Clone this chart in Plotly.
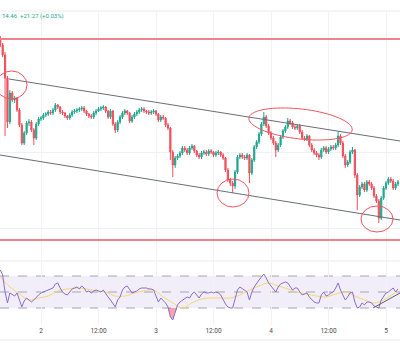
import numpy as np
import plotly.graph_objects as go

# ---------------- data (30-minute candles; x = hours from day "2" 00:00) ----------------
START_HOUR = -8.5
STEP_HOUR = 0.5

opens = [71620,71550,71450,71220,70780,71070,71000,71020,70900,70750,
         70570,70670,70770,70780,70700,70620,70760,70810,70820,70850,
         70860,70880,70870,70900,70950,70930,70880,70870,70840,70820,
         70850,70880,70890,70900,70910,70920,70890,70860,70840,70830,
         70870,70890,70910,70920,70930,70890,70830,70890,70760,70700,
         70780,70830,70870,70890,70870,70790,70830,70860,70880,70900,
         70910,70890,70880,70870,70880,70890,70860,70800,70830,70820,
         70750,70720,70480,70350,70420,70440,70470,70520,70500,70470,
         70520,70540,70490,70450,70430,70470,70480,70460,70490,70480,
         70450,70470,70480,70450,70420,70300,70200,70170,70140,70280,
         70430,70450,70430,70420,70450,70270,70400,70530,70580,70660,
         70760,70830,70740,70670,70620,70570,70500,70550,70630,70690,
         70730,70790,70770,70730,70720,70740,70680,70620,70610,70640,
         70550,70500,70470,70450,70430,70500,70520,70480,70510,70530,
         70520,70550,70640,70570,70440,70350,70380,70480,70500,70250,
         70050,70130,70160,70100,70180,70160,70120,70040,69990,69820,
         70020,70120,70170,70210,70190,70120,70160]
highs = [71640,71570,71480,71240,71100,71090,71040,71030,70920,70770,
         70690,70790,70810,70800,70720,70780,70830,70840,70870,70880,
         70900,70900,70920,70970,70960,70940,70900,70880,70850,70870,
         70900,70910,70920,70930,70940,70940,70900,70870,70860,70890,
         70910,70930,70940,70950,70940,70900,70910,70900,70780,70800,
         70850,70890,70910,70900,70880,70850,70880,70900,70920,70930,
         70930,70900,70900,70900,70910,70900,70870,70850,70850,70830,
         70770,70730,70500,70440,70460,70490,70540,70540,70520,70540,
         70560,70550,70500,70470,70490,70500,70500,70510,70510,70490,
         70490,70500,70490,70470,70430,70320,70220,70190,70300,70450,
         70470,70470,70450,70470,70460,70420,70550,70600,70680,70780,
         70880,70850,70760,70690,70640,70590,70570,70650,70710,70750,
         70820,70810,70790,70750,70760,70760,70700,70640,70660,70650,
         70570,70520,70490,70470,70520,70540,70540,70530,70550,70550,
         70570,70690,70660,70590,70460,70400,70500,70530,70510,70270,
         70150,70180,70180,70200,70200,70180,70140,70060,70010,70040,
         70140,70190,70230,70230,70210,70180,70200]
lows = [71530,71430,70640,70720,70760,70980,70970,70880,70730,70550,
        70550,70650,70740,70680,70550,70600,70740,70790,70800,70830,
        70840,70850,70850,70880,70910,70860,70850,70820,70800,70800,
        70830,70860,70870,70880,70890,70870,70840,70820,70810,70810,
        70850,70880,70890,70900,70870,70810,70810,70740,70670,70680,
        70760,70810,70850,70850,70770,70770,70810,70840,70860,70880,
        70870,70860,70850,70850,70860,70840,70780,70780,70800,70730,
        70700,70400,70230,70320,70400,70420,70450,70480,70450,70450,
        70500,70470,70430,70410,70410,70450,70440,70440,70460,70430,
        70430,70450,70430,70400,70280,70180,70140,70070,70110,70260,
        70410,70410,70400,70400,70170,70250,70380,70510,70560,70640,
        70740,70720,70650,70600,70550,70430,70480,70530,70610,70670,
        70710,70750,70710,70700,70700,70660,70600,70590,70590,70530,
        70480,70450,70430,70400,70410,70480,70460,70460,70490,70500,
        70500,70530,70550,70420,70320,70330,70360,70460,70220,69900,
        70030,70110,70080,70080,70140,70100,70020,69970,69770,69800,
        70000,70100,70150,70170,70100,70100,70140]
closes = [71550,71450,71220,70780,71070,71000,71020,70900,70750,70570,
          70670,70770,70780,70700,70620,70760,70810,70820,70850,70860,
          70880,70870,70900,70950,70930,70880,70870,70840,70820,70850,
          70880,70890,70900,70910,70920,70890,70860,70840,70830,70870,
          70890,70910,70920,70930,70890,70830,70890,70760,70700,70780,
          70830,70870,70890,70870,70790,70830,70860,70880,70900,70910,
          70890,70880,70870,70880,70890,70860,70800,70830,70820,70750,
          70720,70480,70350,70420,70440,70470,70520,70500,70470,70520,
          70540,70490,70450,70430,70470,70480,70460,70490,70480,70450,
          70470,70480,70450,70420,70300,70200,70170,70140,70280,70430,
          70450,70430,70420,70450,70270,70400,70530,70580,70660,70760,
          70830,70740,70670,70620,70570,70500,70550,70630,70690,70730,
          70790,70770,70730,70720,70740,70680,70620,70610,70640,70550,
          70500,70470,70450,70430,70500,70520,70480,70510,70530,70520,
          70550,70640,70570,70440,70350,70380,70480,70500,70250,70050,
          70130,70160,70100,70180,70160,70120,70040,69990,69820,70020,
          70120,70170,70210,70190,70120,70160,70180]

rsi = [77.5,71.3,50.0,36.3,48.8,46.3,45.0,48.8,40.0,31.3,
       38.8,42.5,40.0,37.5,40.0,43.8,46.3,48.8,50.0,51.3,
       52.5,53.8,55.0,60.0,61.3,55.0,50.0,47.5,46.3,50.0,
       53.8,55.0,56.3,53.8,57.5,55.0,50.0,51.3,48.8,51.3,
       52.5,51.3,50.0,52.5,47.5,43.8,40.0,36.3,31.3,40.0,
       43.8,52.5,56.3,57.5,52.5,48.8,50.0,51.3,53.8,55.0,
       55.0,55.0,53.8,53.8,52.5,43.8,37.5,42.5,40.0,36.3,
       31.3,18.8,15.0,25.0,33.8,37.5,40.0,41.3,43.8,42.5,
       47.5,50.0,46.3,42.5,47.5,50.0,48.8,48.8,50.0,48.8,
       50.0,48.8,46.3,40.0,35.0,31.3,30.0,30.0,40.0,52.5,
       56.3,53.8,51.3,50.0,40.0,50.0,56.3,61.3,65.0,68.8,
       72.5,67.5,61.3,57.5,53.8,50.0,56.3,60.0,61.3,62.5,
       61.3,56.3,52.5,55.0,55.0,50.0,46.3,47.5,48.8,43.8,
       40.0,37.5,36.3,36.3,46.3,50.0,45.0,46.3,48.8,50.0,
       55.0,61.3,52.5,46.3,40.0,43.8,48.8,50.0,37.5,30.0,
       31.3,36.3,33.8,37.5,37.5,36.3,32.5,31.3,30.0,40.0,
       43.8,48.8,50.0,52.5,55.0,50.0,53.8]

rsi_ma_index = list(range(0, 165, 4)) + [166]
rsi_ma = [68.8,56.3,47.5,40.0,42.5,45.0,51.3,53.8,55.0,53.8,51.3,50.0,45.0,45.0,
          48.8,51.3,52.5,43.8,36.3,30.0,36.3,41.3,42.5,42.5,42.5,46.3,52.5,57.5,
          61.3,57.5,53.8,50.0,47.5,45.0,43.8,47.5,50.0,45.0,40.0,36.3,40.0,47.5,50.0]

tick_hours = [0, 12, 24, 36, 48, 60, 72]
tick_labels = ["2", "12:00", "3", "12:00", "4", "12:00", "5"]
grid_prices = [70480, 69720]

header_text = "14.46  +21.27 (+0.03%)"

# drawings (hours, price)
resistance_price = 71610
support_price = 69600
upper_channel_h = [-6.68, 74.92]
upper_channel_p = [71210, 70590]
lower_channel_h = [-8.56, 74.92]
lower_channel_p = [70450, 69800]
ellipses = [  # x0, x1 (hours), y0, y1 (price)
    (-9.39, -2.92, 71010, 71290),
    (36.73, 43.41, 69930, 70210),
    (66.78, 73.46, 69680, 69940),
]
tilted = dict(h=54.16, p=70760, a_px=52, b_px=15, angle=6.6)
rsi_trend_h = [69.29, 74.92]
rsi_trend_v = [30, 48.75]

# ---------------- layout constants ----------------
W, H, BMARGIN = 400, 355, 30
PLOT_H = H - BMARGIN
X_RANGE = [-8.556, 74.92]
Y_RANGE = [69400, 71890]
RSI_RANGE = [8.75, 88.75]
MAIN_DOM = [(PLOT_H - 260) / PLOT_H, (PLOT_H - 11) / PLOT_H]
RSI_DOM = [0, (PLOT_H - 261) / PLOT_H]

UP, DOWN = "#22a68f", "#ef4f5b"

hours = START_HOUR + STEP_HOUR * np.arange(len(closes))
ma_hours = hours[rsi_ma_index]

fig = go.Figure()
fig.add_trace(go.Candlestick(
    x=hours, open=opens, high=highs, low=lows, close=closes,
    increasing=dict(line=dict(color=UP, width=1), fillcolor=UP),
    decreasing=dict(line=dict(color=DOWN, width=1), fillcolor=DOWN),
    xaxis="x", yaxis="y", showlegend=False, hoverinfo="skip"))

# RSI oversold fill
fig.add_trace(go.Scatter(x=hours, y=[30] * len(rsi), mode="lines",
                         line=dict(width=0, color="rgba(0,0,0,0)"),
                         xaxis="x2", yaxis="y2", showlegend=False, hoverinfo="skip"))
fig.add_trace(go.Scatter(x=hours, y=np.minimum(rsi, 30), mode="lines", fill="tonexty",
                         fillcolor="rgba(242,54,69,0.45)", line=dict(width=0, color="rgba(0,0,0,0)"),
                         xaxis="x2", yaxis="y2", showlegend=False, hoverinfo="skip"))
fig.add_trace(go.Scatter(x=ma_hours, y=rsi_ma, mode="lines", line=dict(color="#f5d76e", width=1, shape="spline"),
                         xaxis="x2", yaxis="y2", showlegend=False, hoverinfo="skip"))
fig.add_trace(go.Scatter(x=hours, y=rsi, mode="lines", line=dict(color="#8a6cd0", width=1),
                         xaxis="x2", yaxis="y2", showlegend=False, hoverinfo="skip"))

shapes = []
# pane borders
for yp in (MAIN_DOM[1], RSI_DOM[1], (PLOT_H - 340) / PLOT_H):
    shapes.append(dict(type="line", xref="paper", yref="paper", x0=0, x1=1, y0=yp, y1=yp,
                       line=dict(color="#e9ebef", width=1), layer="below"))
# RSI band and levels
shapes.append(dict(type="rect", xref="paper", yref="y2", x0=0, x1=1, y0=30, y1=70,
                   fillcolor="rgba(126,87,194,0.10)", line=dict(width=0), layer="below"))
for lvl in (70, 50, 30):
    shapes.append(dict(type="line", xref="paper", yref="y2", x0=0, x1=1, y0=lvl, y1=lvl,
                       line=dict(color="#a3a6af", width=1, dash="dash"), layer="below"))
# support / resistance
for pr in (resistance_price, support_price):
    shapes.append(dict(type="line", xref="paper", yref="y", x0=0, x1=1, y0=pr, y1=pr,
                       line=dict(color="#f4808a", width=2)))
# channel
shapes.append(dict(type="line", xref="x", yref="y", x0=upper_channel_h[0], x1=upper_channel_h[1],
                   y0=upper_channel_p[0], y1=upper_channel_p[1], line=dict(color="#6a6d78", width=1)))
shapes.append(dict(type="line", xref="x", yref="y", x0=lower_channel_h[0], x1=lower_channel_h[1],
                   y0=lower_channel_p[0], y1=lower_channel_p[1], line=dict(color="#6a6d78", width=1)))
# ellipses
for x0, x1, y0, y1 in ellipses:
    shapes.append(dict(type="circle", xref="x", yref="y", x0=x0, x1=x1, y0=y0, y1=y1,
                       line=dict(color="#f0555f", width=1)))
px_per_h = W / (X_RANGE[1] - X_RANGE[0])
px_per_p = (MAIN_DOM[1] - MAIN_DOM[0]) * PLOT_H / (Y_RANGE[1] - Y_RANGE[0])
th = np.linspace(0, 2 * np.pi, 73)
ang = np.radians(tilted["angle"])
dx = tilted["a_px"] * np.cos(th) * np.cos(ang) - tilted["b_px"] * np.sin(th) * np.sin(ang)
dy = tilted["a_px"] * np.cos(th) * np.sin(ang) + tilted["b_px"] * np.sin(th) * np.cos(ang)
ex = tilted["h"] + dx / px_per_h
ey = tilted["p"] - dy / px_per_p
path = "M " + " L ".join(f"{a:.4f},{b:.2f}" for a, b in zip(ex, ey)) + " Z"
shapes.append(dict(type="path", xref="x", yref="y", path=path, line=dict(color="#f0555f", width=1)))
# RSI trend line
shapes.append(dict(type="line", xref="x2", yref="y2", x0=rsi_trend_h[0], x1=rsi_trend_h[1],
                   y0=rsi_trend_v[0], y1=rsi_trend_v[1], line=dict(color="#5d606b", width=1)))

fig.update_layout(
    width=W, height=H, margin=dict(l=0, r=0, t=0, b=BMARGIN),
    paper_bgcolor="white", plot_bgcolor="white", showlegend=False,
    font=dict(family="Roboto", color="#555"),
    shapes=shapes,
    xaxis=dict(domain=[0, 1], range=X_RANGE, anchor="y", tickvals=tick_hours, showticklabels=False,
               showgrid=True, gridcolor="#f1f2f5", zeroline=False, rangeslider=dict(visible=False),
               fixedrange=True),
    yaxis=dict(domain=MAIN_DOM, range=Y_RANGE, anchor="x", tickvals=grid_prices, showticklabels=False,
               showgrid=True, gridcolor="#eef0f3", zeroline=False),
    xaxis2=dict(domain=[0, 1], range=X_RANGE, anchor="y2", tickvals=tick_hours, ticktext=tick_labels,
                showgrid=True, gridcolor="#f1f2f5", zeroline=False, ticks="",
                tickfont=dict(size=6.5, color="#4a4a4a", family="Roboto")),
    yaxis2=dict(domain=RSI_DOM, range=RSI_RANGE, anchor="x2", showgrid=False, showticklabels=False,
                zeroline=False),
    annotations=[dict(xref="paper", yref="paper", x=0, y=(PLOT_H - 16) / PLOT_H, xanchor="left",
                      yanchor="middle", text=header_text, showarrow=False,
                      font=dict(size=6, color="#22a68f", family="Roboto"))],
)

fig.write_html("out.html", config={"displayModeBar": False},
               post_script="document.body.style.margin='0';document.body.style.overflow='hidden';")
